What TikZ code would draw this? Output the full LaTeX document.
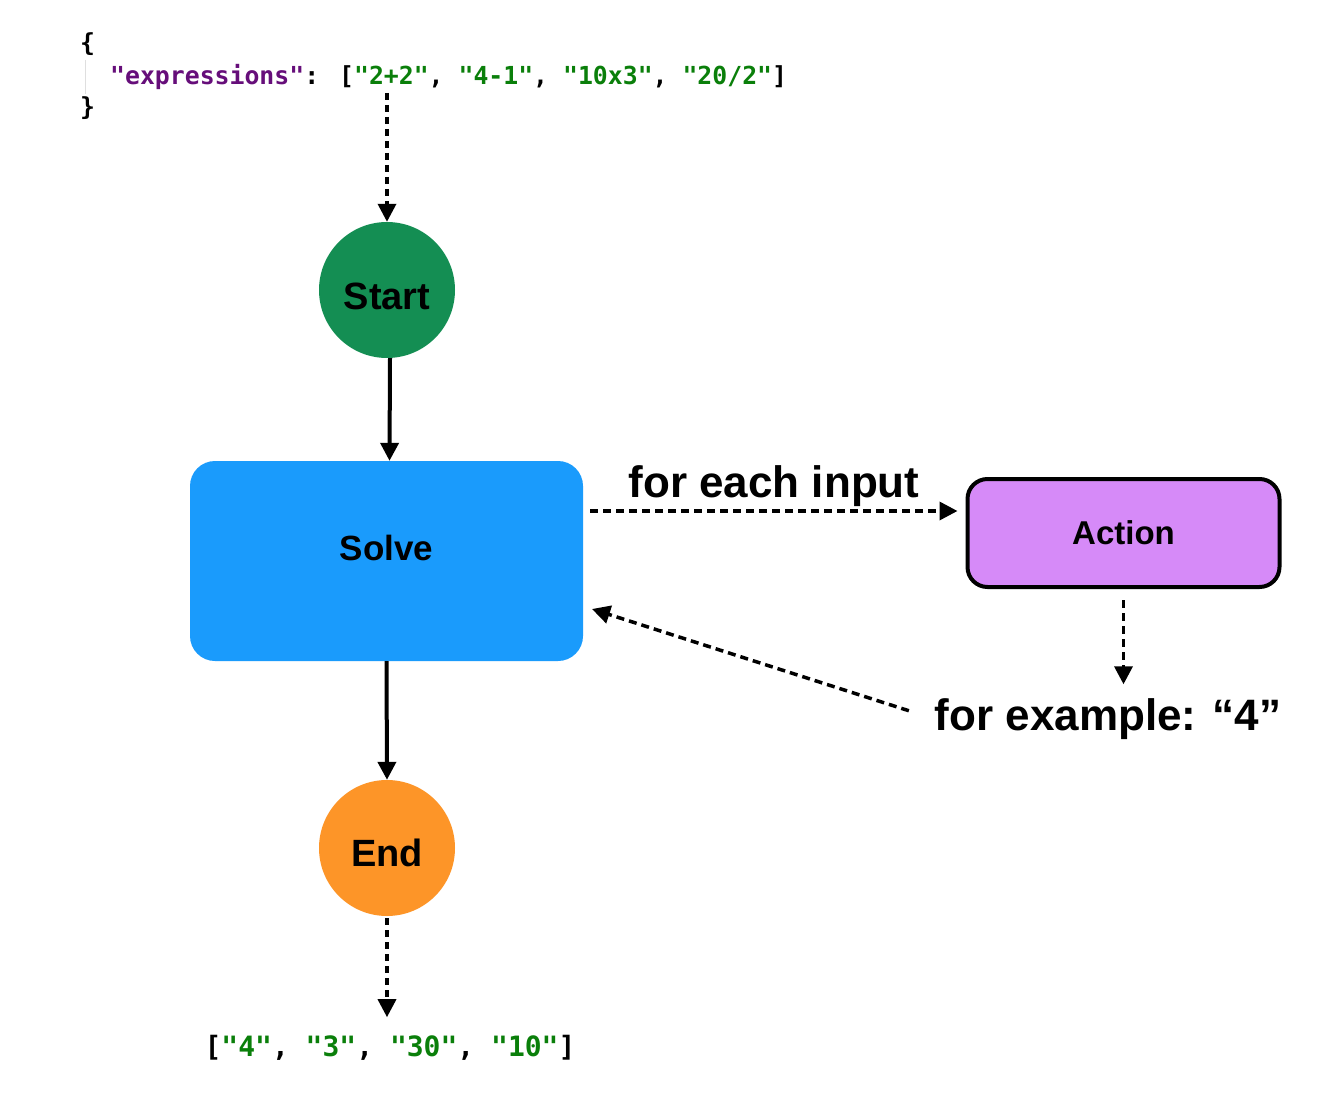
\documentclass[tikz,border=0pt]{standalone}
\usepackage{fontspec}
\setmainfont{Liberation Sans}
\newfontfamily\codefont{DejaVu Sans Mono}
\usetikzlibrary{arrows.meta}
\definecolor{startgreen}{HTML}{148E53}
\definecolor{solveblue}{HTML}{1A9BFC}
\definecolor{actionpurple}{HTML}{D68AF8}
\definecolor{endorange}{HTML}{FD9528}
\definecolor{jsonpurple}{HTML}{660E7A}
\definecolor{jsongreen}{HTML}{0A7F0A}
\tikzset{
  tipstyle/.style={-{Triangle[length=18pt,width=18pt]}},
  solidarrow/.style={tipstyle, line width=4pt},
  dasharrow/.style={tipstyle, line width=3.5pt, dash pattern=on 8pt off 5pt},
  dotarrow/.style={tipstyle, line width=3.5pt, dash pattern=on 7pt off 5pt},
  codetext/.style={inner sep=0pt, font=\codefont\bfseries\fontsize{24.8pt}{30pt}\selectfont},
  bigcode/.style={inner sep=0pt, font=\codefont\bfseries\fontsize{28pt}{34pt}\selectfont},
  roundnode/.style={circle, inner sep=0pt, minimum size=136pt, font=\bfseries\fontsize{38pt}{44pt}\selectfont},
  labeltext/.style={inner sep=0pt, font=\bfseries\fontsize{44pt}{52pt}\selectfont},
}
\begin{document}
\begin{tikzpicture}[x=1pt,y=-1pt]
\useasboundingbox[fill=white] (0,0) rectangle (1342,1116);

% JSON input
\draw[gray!25, line width=1pt] (85,60) -- (85,94);
\node[codetext, anchor=west] (jopen) at (80,44) {\{};
\node[codetext, anchor=west] (jline) at (110,77) {\textcolor{jsonpurple}{"expressions"}: [\textcolor{jsongreen}{"2+2"}, \textcolor{jsongreen}{"4-1"}, \textcolor{jsongreen}{"10x3"}, \textcolor{jsongreen}{"20/2"}]};
\node[codetext, anchor=west] (jclose) at (80,108) {\}};

% Nodes
\node[roundnode, fill=startgreen] (start) at (387,290) {\rule{0pt}{40pt}Start};
\node[rectangle, fill=solveblue, rounded corners=25pt, minimum width=393pt, minimum height=200pt, inner sep=0pt,
      font=\bfseries\fontsize{35pt}{42pt}\selectfont] (solve) at (386.5,561) {\raisebox{26pt}{Solve}};
\node[rectangle, fill=actionpurple, draw=black, line width=4pt, rounded corners=20pt, minimum width=312pt, minimum height=108pt, inner sep=0pt,
      font=\bfseries\fontsize{33pt}{40pt}\selectfont] (action) at (1123.5,533) {Action};
\node[roundnode, fill=endorange] (end) at (387,848) {\rule{0pt}{38pt}End};

\node[labeltext] (foreach) at (774,486) {for each input};
\node[labeltext] (example) at (1108,719) {for example: “4”};

\node[bigcode] (result) at (390,1048) {[\textcolor{jsongreen}{"4"}, \textcolor{jsongreen}{"3"}, \textcolor{jsongreen}{"30"}, \textcolor{jsongreen}{"10"}]};

% Connectors
\draw[dotarrow, shorten <=3pt] (start.north |- jline.south) -- (start.north);
\draw[solidarrow] ([xshift=3pt]start.south) -- ([xshift=3pt]solve.north);
\coordinate (a1) at ([yshift=50pt]solve.east);
\draw[dasharrow, shorten <=7pt, shorten >=8pt] (a1) -- (a1 -| action.west);
\draw[dasharrow, shorten <=11pt, shorten >=14pt] (action.south) -- (action.south |- example.north);
\coordinate (solvein) at (592,609);
\draw[dasharrow, shorten <=27pt] (example.west) -- (solvein);
\draw[solidarrow] (solve.south) -- (end.north);
\draw[dotarrow, shorten <=2pt, shorten >=18pt] (end.south) -- (end.south |- result.north);
\end{tikzpicture}
\end{document}
